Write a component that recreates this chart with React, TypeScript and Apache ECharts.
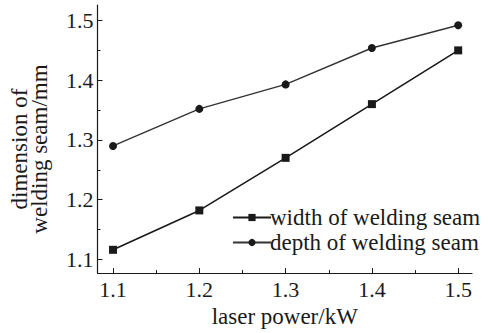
import React, { useEffect, useRef } from "react";
import * as echarts from "echarts";

const power = [1.1, 1.2, 1.3, 1.4, 1.5];
const widthSeam = [1.116, 1.182, 1.27, 1.36, 1.45];
const depthSeam = [1.29, 1.352, 1.393, 1.454, 1.492];
const majorTicks = [1.1, 1.2, 1.3, 1.4, 1.5];
const minorTicks = [1.15, 1.25, 1.35, 1.45];
const seriesNames = ["width of welding seam", "depth of welding seam"];

const FONT = "'Liberation Serif', 'Times New Roman', serif";
const INK = "#1a1a1a";

export default function App() {
  const ref = useRef<HTMLDivElement>(null);
  useEffect(() => {
    const chart = echarts.init(ref.current!, null, { renderer: "svg" });
    const xMin = 1.082, xMax = 1.516, yMin = 1.077, yMax = 1.526;
    const option: any = {
      animation: false,
      backgroundColor: "#fff",
      textStyle: { fontFamily: FONT },
      grid: { left: 94, right: 18, top: 5, bottom: 56 },
      legend: {
        left: 232,
        top: 206,
        padding: 0,
        orient: "vertical",
        itemWidth: 38,
        itemHeight: 9,
        itemGap: 2,
        textStyle: { fontFamily: FONT, fontSize: 23, color: INK, padding: [0, 0, 0, -6] },
        data: seriesNames,
      },
      xAxis: [
        {
          type: "value",
          min: xMin,
          max: xMax,
          position: "bottom",
          splitLine: { show: false },
          name: "laser power/kW",
          nameLocation: "middle",
          nameGap: 29,
          nameTextStyle: { fontFamily: FONT, fontSize: 23, color: INK, verticalAlign: "top" },
          axisLine: { lineStyle: { color: INK, width: 1.2 } },
          axisTick: { inside: true, length: 5, customValues: majorTicks, lineStyle: { color: INK } },
          axisLabel: {
            customValues: majorTicks,
            fontFamily: FONT,
            fontSize: 22,
            color: INK,
            margin: 5,
            formatter: (v: number) => v.toFixed(1),
          },
        },
        {
          type: "value",
          min: xMin,
          max: xMax,
          position: "bottom",
          splitLine: { show: false },
          axisLine: { show: false },
          axisTick: { show: true, inside: true, length: 3, customValues: minorTicks, lineStyle: { color: INK } },
          axisLabel: { show: false },
        },
      ],
      yAxis: [
        {
          type: "value",
          min: yMin,
          max: yMax,
          position: "left",
          splitLine: { show: false },
          name: "dimension of\nwelding seam/mm",
          nameLocation: "middle",
          nameGap: 48,
          nameRotate: 90,
          nameTextStyle: { fontFamily: FONT, fontSize: 23, color: INK, lineHeight: 20, padding: [0, 20, 0, 0] },
          axisLine: { show: true, lineStyle: { color: INK, width: 1.2 } },
          axisTick: { show: true, inside: true, length: 5, customValues: majorTicks, lineStyle: { color: INK } },
          axisLabel: {
            customValues: majorTicks,
            fontFamily: FONT,
            fontSize: 22,
            color: INK,
            margin: 4,
            formatter: (v: number) => v.toFixed(1),
          },
        },
        {
          type: "value",
          min: yMin,
          max: yMax,
          position: "left",
          splitLine: { show: false },
          axisLine: { show: false },
          axisTick: { show: true, inside: true, length: 3, customValues: minorTicks, lineStyle: { color: INK } },
          axisLabel: { show: false },
        },
      ],
      series: [
        {
          name: seriesNames[0],
          type: "line",
          data: power.map((p, i) => [p, widthSeam[i]]),
          symbol: "rect",
          symbolSize: 8,
          itemStyle: { color: INK },
          lineStyle: { color: INK, width: 1.6 },
        },
        {
          name: seriesNames[1],
          type: "line",
          data: power.map((p, i) => [p, depthSeam[i]]),
          symbol: "circle",
          symbolSize: 8,
          itemStyle: { color: INK },
          lineStyle: { color: "#333", width: 1.4 },
        },
      ],
    };
    chart.setOption(option);
    return () => chart.dispose();
  }, []);
  return <div ref={ref} style={{ width: 490, height: 333, position: "absolute", left: 0, top: 0 }} />;
}
